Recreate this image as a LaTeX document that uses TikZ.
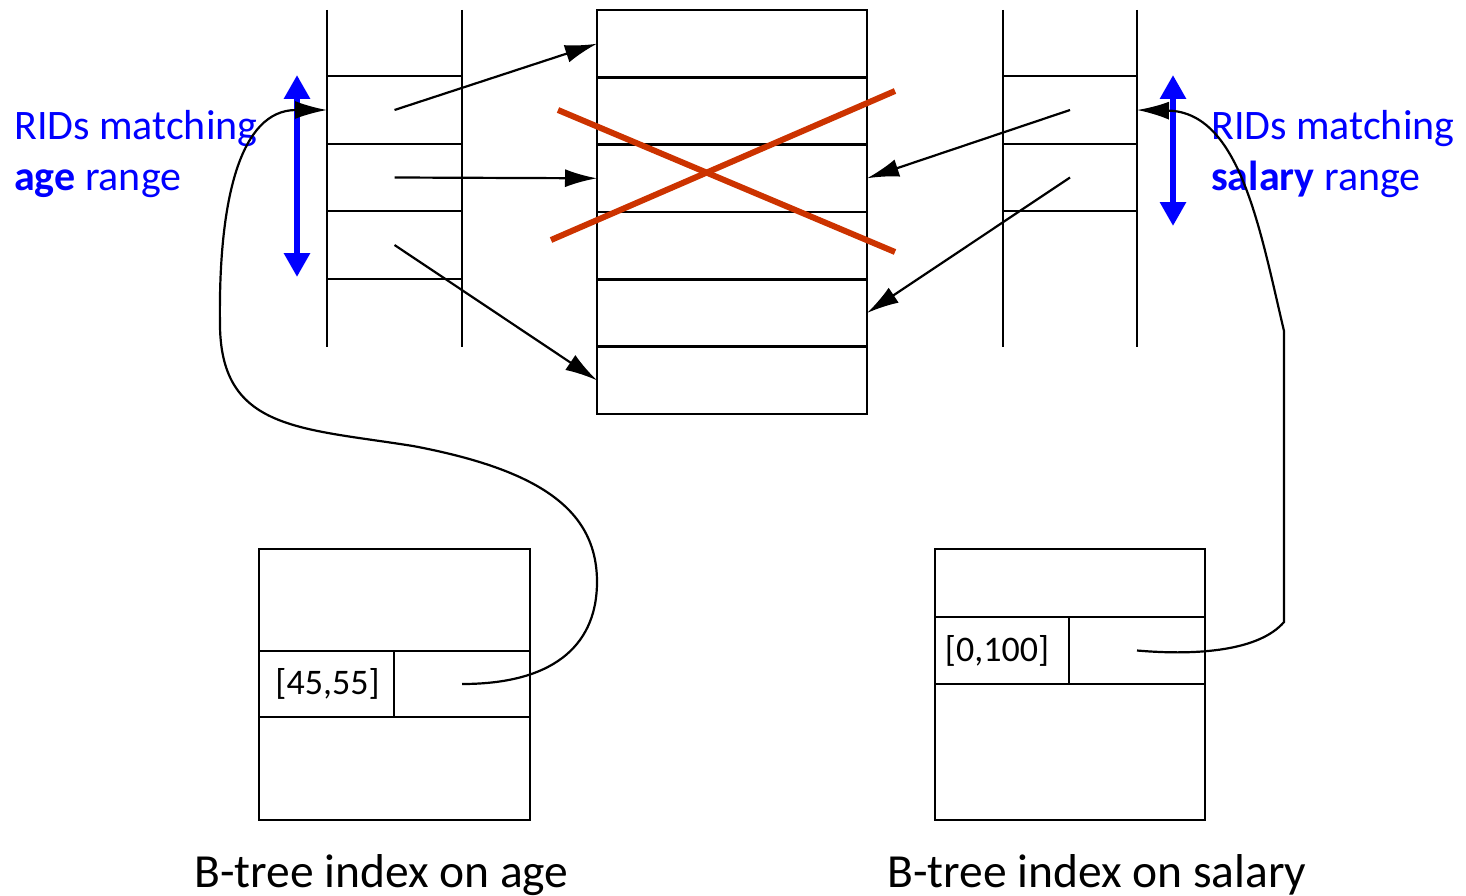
\documentclass[tikz,border=0pt]{standalone}
\usepackage{fontspec}
\setmainfont{Carlito}
\usetikzlibrary{arrows.meta}
\definecolor{ridblue}{RGB}{0,0,255}
\definecolor{crossred}{RGB}{204,51,0}
\begin{document}
\begin{tikzpicture}[x=1pt,y=-1pt,line width=2.4pt,
  cell/.style={draw,rectangle,inner sep=0pt,outer sep=0pt},
  slot/.style={rectangle,inner sep=0pt,outer sep=0pt,minimum width=135pt,minimum height=67pt},
  ptr/.style={-{Latex[length=32pt,width=18pt]},line width=2.2pt},
  ridspan/.style={draw=ridblue,line width=6pt,{Triangle[length=24pt,width=25pt]}-{Triangle[length=24pt,width=25pt]}},
  lbl/.style={anchor=base west,text=ridblue,font=\fontsize{42}{50}\selectfont,inner sep=0pt},
  captxt/.style={anchor=base west,font=\fontsize{47.5}{56}\selectfont,inner sep=0pt},
  keytxt/.style={font=\fontsize{36}{42}\selectfont,inner sep=0pt},
  crossline/.style={draw=crossred,line width=6pt}]
\useasboundingbox (0,0) rectangle (1466,896);

% middle data file
\foreach \i/\c in {1/43.7,2/111,3/178.3,4/245.7,5/313,6/380.3}
  \node[cell,minimum width=270pt,minimum height=67.3pt] (m\i) at (732,\c) {};

% left RID list
\draw (327,10) -- (327,347) (462,10) -- (462,347);
\foreach \y in {76,144,211,279} \draw (327,\y) -- (462,\y);
\node[slot] (l1) at (394.5,110) {};
\node[slot] (l2) at (394.5,177.5) {};
\node[slot] (l3) at (394.5,245) {};

% right RID list
\draw (1003,10) -- (1003,347) (1137,10) -- (1137,347);
\foreach \y in {76,144,211} \draw (1003,\y) -- (1137,\y);
\node[slot,minimum width=134pt] (r1) at (1070,110) {};
\node[slot,minimum width=134pt] (r2) at (1070,177.5) {};

% pointers into data file
\draw[ptr] (l1.center) -- (m1.west);
\draw[ptr] (l2.center) -- (m3.west);
\draw[ptr] (l3.center) -- (m6.west);
\draw[ptr] (r1.center) -- (m3.east);
\draw[ptr] (r2.center) -- (m5.east);

% red cross
\coordinate (x1) at (558,110); \coordinate (x2) at (895,252);
\coordinate (x3) at (551,240); \coordinate (x4) at (895,91);
\draw[crossline] (x1) -- (x2);
\draw[crossline] (x3) -- (x4);

% blue range arrows
\coordinate (ba1) at (297,75); \coordinate (ba2) at (297,277);
\coordinate (bb1) at (1173,75); \coordinate (bb2) at (1173,226);
\draw[ridspan] (ba1) -- (ba2);
\draw[ridspan] (bb1) -- (bb2);

% labels
\node[lbl] (t1) at (13,140) {RIDs matching};
\node[lbl] (t2) at (13,190) {\textbf{age} range};
\node[lbl] (t3) at (1210,140) {RIDs matching};
\node[lbl] (t4) at (1210,190) {\textbf{salary} range};

% B-tree on age
\node[cell,minimum width=271pt,minimum height=271pt] (A) at (394.5,684.5) {};
\node[cell,minimum width=135pt,minimum height=66pt] (ak) at (326.5,684) {};
\node[cell,minimum width=136pt,minimum height=66pt] (ap) at (462,684) {};
\node[keytxt] (ka) at ([xshift=1pt]ak.center) {[45,55]};

% B-tree on salary
\node[cell,minimum width=270pt,minimum height=271pt] (B) at (1070,684.5) {};
\node[cell,minimum width=134pt,minimum height=67pt] (bk) at (1002,650.5) {};
\node[cell,minimum width=136pt,minimum height=67pt] (bp) at (1137,650.5) {};
\node[keytxt] (kb) at ([xshift=-5pt]bk.center) {[0,100]};

% index pointers to RID lists
\draw[ptr] (ap.center) .. controls (560,684) and (597,640) .. (597,582)
  .. controls (597,510) and (540,470) .. (413,446)
  .. controls (300,428) and (222,430) .. (220,327)
  .. controls (218,200) and (240,110) .. (l1.west);
\draw[ptr] (bp.center) .. controls (1200,656) and (1260,650) .. (1284,622)
  -- (1284,331) .. controls (1260,230) and (1240,112) .. (r1.east);

% captions
\node[captxt] (c1) at (193,887) {B-tree index on age};
\node[captxt] (c2) at (886,887) {B-tree index on salary};
\end{tikzpicture}
\end{document}
